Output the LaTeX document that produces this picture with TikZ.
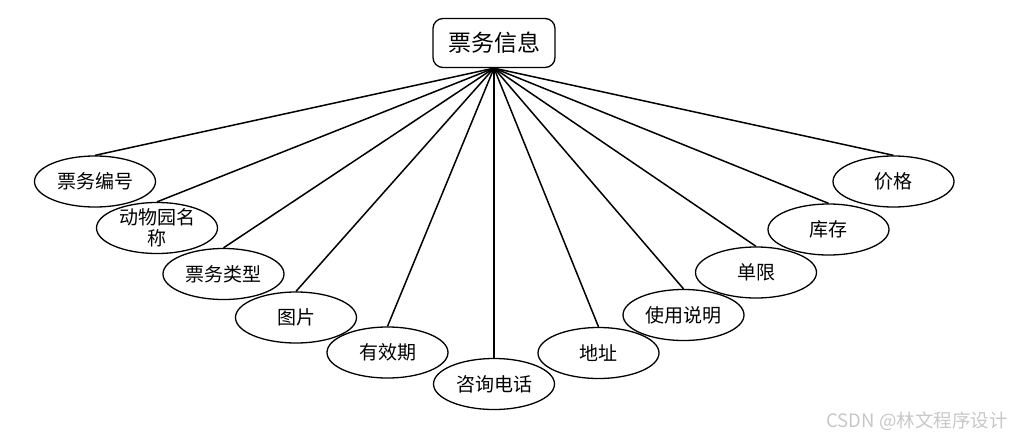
\documentclass[tikz,border=0pt]{standalone}
\usepackage{fontspec}
\setmainfont{Noto Sans CJK SC}
\usetikzlibrary{shapes.geometric}
\begin{document}
\begin{tikzpicture}[x=1pt,y=-1pt,
  attr/.style={ellipse,draw,line width=1.3pt,minimum width=121pt,minimum height=51pt,inner sep=0pt,font=\fontsize{19}{21}\selectfont,align=center},
  ent/.style={draw,rounded corners=10pt,line width=1.3pt,minimum width=122pt,minimum height=49pt,inner sep=0pt,font=\fontsize{23}{26}\selectfont},
  link/.style={line width=1.5pt},
  mark text/.style={text=black!22,font=\fontsize{18.5}{22}\selectfont}]
\useasboundingbox (0,0) rectangle (1015,439);
\node[ent] (root) at (494,43) {票务信息};
\node[attr] (a1) at (95,181.5) {票务编号};
\node[attr,inner ysep=-8pt] (a2) at (157,228) {动物园名\\称};
\node[attr] (a3) at (223.5,274) {票务类型};
\node[attr] (a4) at (296,317.5) {图片};
\node[attr] (a5) at (387.5,352.5) {有效期};
\node[attr] (a6) at (494,384) {咨询电话};
\node[attr] (a7) at (598.5,353) {地址};
\node[attr] (a8) at (683.5,315) {使用说明};
\node[attr] (a9) at (756,272.5) {单限};
\node[attr] (a10) at (828.5,229.5) {库存};
\node[attr] (a11) at (893.5,181.5) {价格};
\foreach \i in {1,...,11}{\draw[link] (root.south) -- (a\i.north);}
\node[mark text] (wm) at (917,421) {CSDN @林文程序设计};
\end{tikzpicture}
\end{document}
